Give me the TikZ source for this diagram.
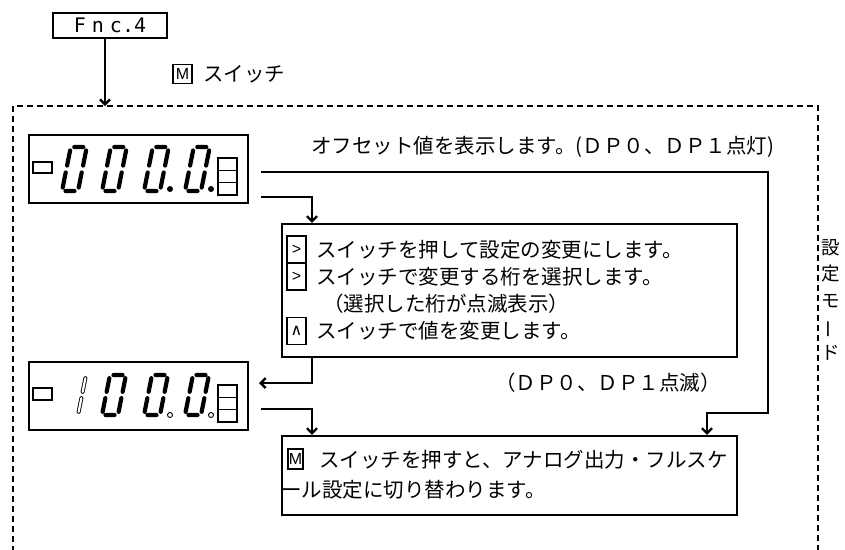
\documentclass[tikz,border=0pt]{standalone}
\usepackage{fontspec}
\usepackage{graphicx}
\setmainfont{Noto Sans CJK JP}
\newfontfamily\keyfont{Liberation Sans}
\newfontfamily\symfont{DejaVu Sans}
\newfontfamily\segfont{DejaVu Sans Mono}
\usetikzlibrary{arrows.meta}
\tikzset{
 px/.style={x=1pt,y=-1pt},
 txt/.style={inner sep=0pt, anchor=west, font=\fontsize{20.5}{27.5}\selectfont},
 key/.style={draw, line width=1.2pt, inner sep=0pt, minimum width=19pt, minimum height=27pt, font=\keyfont\fontsize{16}{16}\selectfont},
 conn/.style={line width=2.4pt},
 arr/.style={conn, -{Straight Barb[length=5pt,width=10pt]}},
 disp/.style={draw, line width=2.4pt, minimum width=219pt, minimum height=68pt, inner sep=0pt},
 panel/.style={draw, line width=2.2pt, minimum width=455pt, inner sep=0pt},
 seg/.style={line width=4.2pt, line cap=round},
 cell/.style={line width=1.4pt},
 framedash/.style={line width=1.6pt, dash pattern=on 6pt off 4pt},
}
\newcommand\lcdzero{%
 \draw[seg] (3.5,0) -- (12.5,0) (3.5,44) -- (12.5,44)
   (0,3.5) -- (0,18.5) (0,25.5) -- (0,40.5)
   (16,3.5) -- (16,18.5) (16,25.5) -- (16,40.5);}
\begin{document}
\begin{tikzpicture}[px]
\useasboundingbox (0,0) rectangle (845,549);
% dashed frame
\draw[framedash] (13,552) -- (13,106) -- (818,106) -- (818,552);
% Fnc.4
\node[draw, line width=1.8pt, minimum width=114pt, minimum height=25pt, inner sep=0pt,
  font=\segfont\fontsize{20}{20}\selectfont] (fnc) at (110,25.5) {F\hspace{6pt}n\hspace{6pt}c.\hspace{0pt}4};
\coordinate (ftop) at (105,106);
\draw[arr] (fnc.south -| ftop) -- (ftop);
\node[key, minimum height=19pt] (mk) at (182.5,74) {M};
\node[txt] (mt) at (203,74) {スイッチ};
% display 1
\node[disp] (d1) at (138.5,169) {};
\draw[cell] (33,162) rectangle (52,173);
\draw[cell] (218,158) rectangle (237,195) (218,170.3) -- (237,170.3) (218,182.7) -- (237,182.7);
\foreach \dx in {62,102,144,185}{
  \begin{scope}[shift={(\dx,191)}, xslant=0.2, yscale=-1]\lcdzero\end{scope}}
\fill (170,189) circle (3pt) (211,189) circle (3pt);
% display 2
\node[disp] (d2) at (138.5,396) {};
\draw[cell] (33,388) rectangle (52,400);
\draw[cell] (218,385) rectangle (237,422) (218,397.3) -- (237,397.3) (218,409.7) -- (237,409.7);
\foreach \dx in {102,144,185}{
  \begin{scope}[shift={(\dx,415)}, xslant=0.2, yscale=-0.909]\lcdzero\end{scope}}
\begin{scope}[shift={(62,415)}, xslant=0.2, yscale=-0.909]
  \draw[line width=4pt, line cap=round] (16,3.5) -- (16,18.5) (16,25.5) -- (16,40.5);
  \draw[line width=2.2pt, line cap=round, white] (16,3.5) -- (16,18.5) (16,25.5) -- (16,40.5);
\end{scope}
\draw[line width=0.9pt, fill=white] (170,415) circle (2.5pt) (211,415) circle (2.5pt);
% texts
\node[txt] (t1) at (311,147) {オフセット値を表示します。(ＤＰ０、ＤＰ１点灯)};
% middle panel
\node[panel, minimum height=133pt] (mid) at (509.5,290.5) {};
\node[key] (k1) at (296.5,249.5) {>};
\node[key] (k2) at (296.5,276.5) {>};
\node[key] (k3) at (296.5,331) {\symfont ∧};
\node[txt] (m1) at (316,250) {スイッチを押して設定の変更にします。};
\node[txt] (m2) at (316,277) {スイッチで変更する桁を選択します。};
\node[txt] (m3) at (323,304) {（選択した桁が点滅表示）};
\node[txt] (m4) at (316,331) {スイッチで値を変更します。};
\node[txt, anchor=center] (t2) at (608,383) {（ＤＰ０、ＤＰ１点滅）};
% bottom panel
\node[panel, minimum height=79pt] (bot) at (509.5,475.5) {};
\node[key, minimum height=20pt, minimum width=15pt] (k4) at (295.5,459) {M};
\node[txt] (b1) at (319,460) {スイッチを押すと、アナログ出力・フルスケ};
\node[txt] (b2) at (281,490) {ール設定に切り替わります。};
% vertical label
\node[inner sep=0pt, align=center, font=\fontsize{18.5}{26.25}\selectfont] (vt) at (831,300)
  {設\\定\\モ\\\rotatebox[origin=c]{90}{ー}\\ド};
% connectors
\coordinate (o1) at (261,172);
\coordinate (o2) at (261,197);
\coordinate (o3) at (261,409);
\coordinate (i2) at (259,383);
\coordinate (c1) at (768,413);
\draw[arr] (o1) -| (c1) -| (707,0 |- bot.north);
\draw[arr] (o2) -| (312,0 |- mid.north);
\draw[arr] (312,0 |- mid.south) |- (i2);
\draw[arr] (o3) -| (312,0 |- bot.north);
\end{tikzpicture}
\end{document}
